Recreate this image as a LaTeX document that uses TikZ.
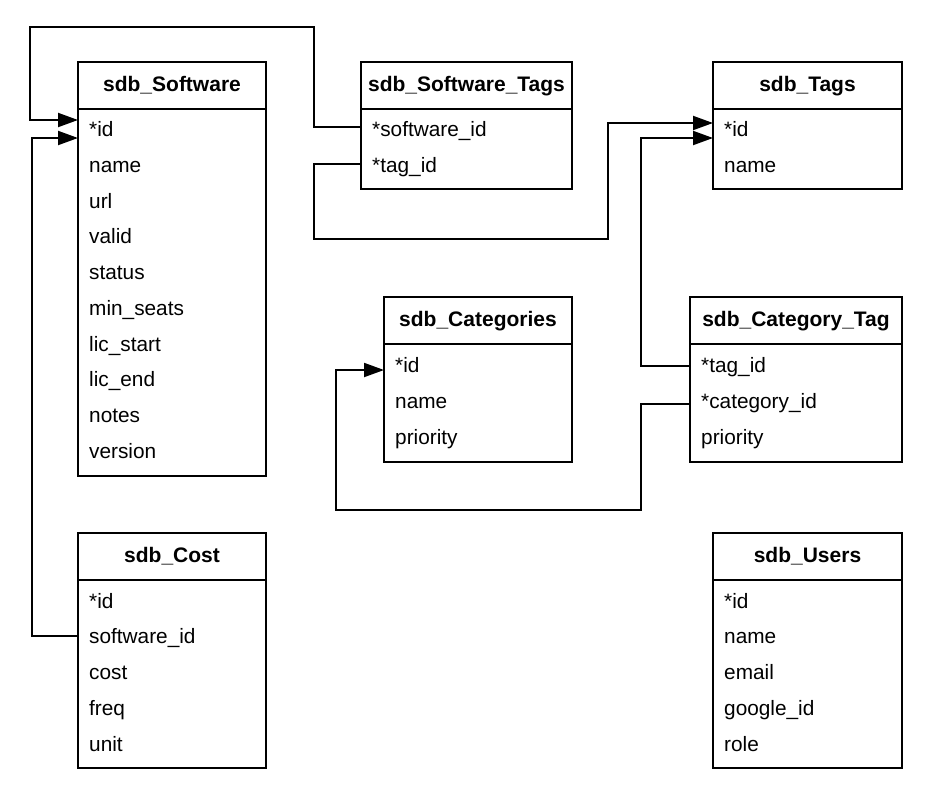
\documentclass[tikz,border=0pt]{standalone}
\usepackage{fontspec}
\setmainfont{Liberation Sans}
\usetikzlibrary{arrows.meta,calc}
\tikzset{
  tabhead/.style={draw, line width=2pt, outer sep=0pt, anchor=north west, font=\bfseries\fontsize{21}{25}\selectfont, text height=15pt, text depth=4pt, inner sep=0pt, minimum height=47pt},
  tabbody/.style={draw, line width=2pt, outer sep=0pt, anchor=north west, inner sep=0pt},
  rowtxt/.style={anchor=base west, inner sep=0pt, font=\fontsize{20.8}{25}\selectfont, text height=14pt, text depth=0pt},
  conn/.style={line width=2pt},
  arr/.style={conn, -{Triangle[length=20pt,width=14pt]}}
}
\begin{document}
\begin{tikzpicture}[x=1pt,y=-1pt]
\useasboundingbox (0,0) rectangle (936,804);
% sdb_Software
\node[tabhead, minimum width=188pt] (swh) at (78,62) {sdb\_Software};
\node[tabbody, minimum width=188pt, minimum height=367pt] (swb) at (swh.south west) {};
\foreach \t [count=\i] in {*id,name,url,valid,status,min\_seats,lic\_start,lic\_end,notes,version}
  \node[rowtxt] (sw\i) at (89,{136.5+35.75*(\i-1)}) {\t};
% sdb_Software_Tags
\node[tabhead, minimum width=211pt] (sth) at (361,62) {sdb\_Software\_Tags};
\node[tabbody, minimum width=211pt, minimum height=80pt] (stb) at (sth.south west) {};
\foreach \t [count=\i] in {*software\_id,*tag\_id}
  \node[rowtxt] (st\i) at (372,{136.5+35.75*(\i-1)}) {\t};
% sdb_Tags
\node[tabhead, minimum width=189pt] (tgh) at (713,62) {sdb\_Tags};
\node[tabbody, minimum width=189pt, minimum height=80pt] (tgb) at (tgh.south west) {};
\foreach \t [count=\i] in {*id,name}
  \node[rowtxt] (tg\i) at (724,{136.5+35.75*(\i-1)}) {\t};
% sdb_Categories
\node[tabhead, minimum width=188pt] (cah) at (384,297) {sdb\_Categories};
\node[tabbody, minimum width=188pt, minimum height=118pt] (cab) at (cah.south west) {};
\foreach \t [count=\i] in {*id,name,priority}
  \node[rowtxt] (ca\i) at (395,{372.5+35.75*(\i-1)}) {\t};
% sdb_Category_Tag
\node[tabhead, minimum width=212pt] (cth) at (690,297) {sdb\_Category\_Tag};
\node[tabbody, minimum width=212pt, minimum height=118pt] (ctb) at (cth.south west) {};
\foreach \t [count=\i] in {*tag\_id,*category\_id,priority}
  \node[rowtxt] (ct\i) at (701,{372.5+35.75*(\i-1)}) {\t};
% sdb_Cost
\node[tabhead, minimum width=188pt] (coh) at (78,533) {sdb\_Cost};
\node[tabbody, minimum width=188pt, minimum height=188pt] (cob) at (coh.south west) {};
\foreach \t [count=\i] in {*id,software\_id,cost,freq,unit}
  \node[rowtxt] (co\i) at (89,{608+35.75*(\i-1)}) {\t};
% sdb_Users
\node[tabhead, minimum width=189pt] (ush) at (713,533) {sdb\_Users};
\node[tabbody, minimum width=189pt, minimum height=188pt] (usb) at (ush.south west) {};
\foreach \t [count=\i] in {*id,name,email,google\_id,role}
  \node[rowtxt] (us\i) at (724,{608+35.75*(\i-1)}) {\t};
% connectors
\draw[arr] (stb.west |- 0,127) -- (314,127) -- (314,27) -- (30,27) -- (30,120) -- (swb.west |- 0,120);
\draw[arr] (cob.west |- 0,636) -- (32,636) -- (32,138) -- (swb.west |- 0,138);
\draw[arr] (stb.west |- 0,164) -- (314,164) -- (314,239) -- (608,239) -- (608,123) -- (tgb.west |- 0,123);
\draw[arr] (ctb.west |- 0,366) -- (641,366) -- (641,138) -- (tgb.west |- 0,138);
\draw[arr] (ctb.west |- 0,404) -- (641,404) -- (641,510) -- (336,510) -- (336,370) -- (cab.west |- 0,370);
\end{tikzpicture}
\end{document}
